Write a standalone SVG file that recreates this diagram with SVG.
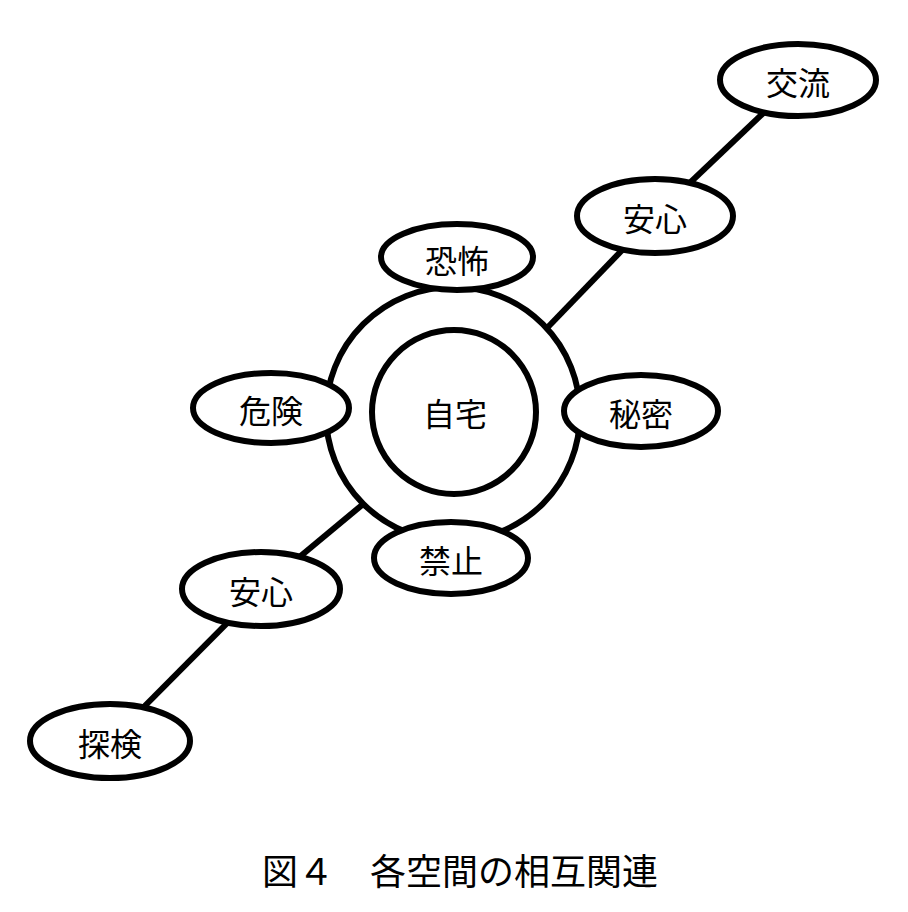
<svg xmlns="http://www.w3.org/2000/svg" width="908" height="912" viewBox="0 0 908 912">
<style>
.n ellipse,.n circle{fill:#fff;stroke:#000;stroke-width:6}
.ring{fill:none;stroke:#000;stroke-width:6}
.c line{stroke:#000;stroke-width:6;stroke-linecap:butt}
text{font-family:"Noto Sans CJK JP","Noto Sans",sans-serif;fill:#000}
.n text{font-size:32px;text-anchor:middle;dominant-baseline:central}
.cap{font-size:36px}
</style>
<rect width="908" height="912" fill="#fff"/>
<g id="connectors" class="c">
<line x1="798" y1="80" x2="655" y2="216"/>
<line x1="655" y1="216" x2="548" y2="327"/>
<line x1="362" y1="505" x2="261" y2="589"/>
<line x1="261" y1="589" x2="110" y2="741"/>
</g>
<g id="ring"><circle class="ring" cx="453" cy="414" r="127"/></g>
<g id="n-jitaku" class="n"><circle cx="454" cy="412" r="82"/><text x="455" y="412">自宅</text></g>
<g id="n-kyofu" class="n"><ellipse cx="457" cy="257" rx="76" ry="33"/><text x="457" y="259">恐怖</text></g>
<g id="n-kiken" class="n"><ellipse cx="271" cy="408" rx="78" ry="35"/><text x="271" y="409">危険</text></g>
<g id="n-himitsu" class="n"><ellipse cx="641" cy="411" rx="77" ry="36"/><text x="641" y="412">秘密</text></g>
<g id="n-kinshi" class="n"><ellipse cx="451" cy="558" rx="77" ry="36"/><text x="451" y="559">禁止</text></g>
<g id="n-anshin1" class="n"><ellipse cx="655" cy="216" rx="78" ry="37"/><text x="655" y="217">安心</text></g>
<g id="n-koryu" class="n"><ellipse cx="798" cy="80" rx="78" ry="36"/><text x="798" y="81">交流</text></g>
<g id="n-anshin2" class="n"><ellipse cx="261" cy="589" rx="79" ry="37"/><text x="261" y="590">安心</text></g>
<g id="n-tanken" class="n"><ellipse cx="110" cy="741" rx="80" ry="37"/><text x="110" y="742">探検</text></g>
<text class="cap" x="262" y="885">図４　各空間の相互関連</text>
</svg>
